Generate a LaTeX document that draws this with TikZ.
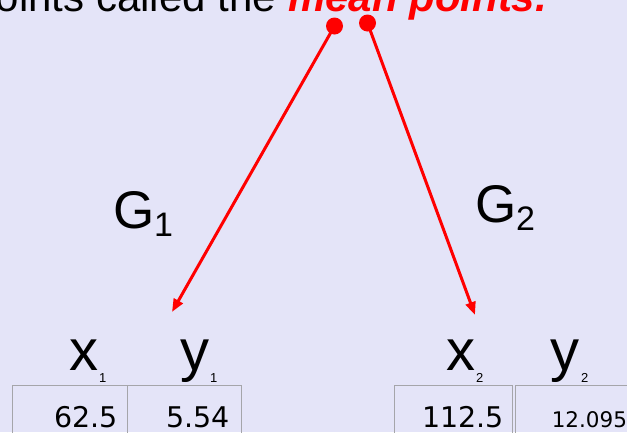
\documentclass[tikz,border=0pt]{standalone}
\usepackage{fontspec}
\setmainfont{Liberation Sans}
\newfontfamily\dv{DejaVu Sans}
\usetikzlibrary{arrows.meta}
\definecolor{bg}{RGB}{228,228,248}
\definecolor{cellline}{RGB}{165,165,170}
\begin{document}
\begin{tikzpicture}[x=1pt,y=1pt,
  txt/.style={inner sep=0pt,outer sep=0pt},
  dot/.style={circle,fill=red,inner sep=0pt,minimum size=17pt},
  ptr/.style={red,line width=3pt,-{Triangle[length=13pt,width=10pt]}},
  cell/.style={draw=cellline,line width=1pt,inner sep=0pt,anchor=north west,minimum height=70pt},
  big/.style={txt,font=\fontsize{53}{60}\selectfont},
  bigsub/.style={txt,font=\fontsize{34}{40}\selectfont},
  var/.style={txt,font=\fontsize{58}{64}\selectfont},
  varsub/.style={txt,font=\fontsize{13}{15}\selectfont},
  num/.style={txt,text depth=0pt,font=\dv\fontsize{28.5}{32}\selectfont},
  numsm/.style={txt,text depth=0pt,font=\dv\fontsize{21.5}{25}\selectfont}]
\useasboundingbox (0,0) rectangle (627,-432);
\clip (0,0) rectangle (627,-432);
\fill[bg] (0,0) rectangle (627,-432);
% top text
\node[txt,anchor=base east,font=\fontsize{42}{48}\selectfont] (t1) at (276,-11) {points called the};
\node[txt,anchor=base west,text=red,font=\fontsize{42}{48}\selectfont\bfseries\itshape] (t2) at (288,-11) {mean points.};
% dots
\node[dot] (d1) at (334.5,-26) {};
\node[dot] (d2) at (367.5,-23) {};
\coordinate (a1) at (172,-312);
\coordinate (a2) at (475,-315);
\draw[ptr] (d1.center) -- (a1);
\draw[ptr] (d2.center) -- (a2);
% G labels
\node[big,anchor=base west] (g1) at (113,-228) {G};
\node[bigsub,anchor=base west] (g1s) at (g1.base east) [yshift=-8pt] {1};
\node[big,anchor=base west] (g2) at (475,-222) {G};
\node[bigsub,anchor=base west] (g2s) at (g2.base east) [yshift=-8pt] {2};
% variable labels
\node[var,anchor=base west] (x1) at (69,-370) {x};
\node[varsub,anchor=base west] (x1s) at (99,-382) {1};
\node[var,anchor=base west] (y1) at (180,-370) {y};
\node[varsub,anchor=base west] (y1s) at (210,-382) {1};
\node[var,anchor=base west] (x2) at (446,-370) {x};
\node[varsub,anchor=base west] (x2s) at (476,-382) {2};
\node[var,anchor=base west] (y2) at (550,-370) {y};
\node[varsub,anchor=base west] (y2s) at (581,-382) {2};
% table cells
\node[cell,minimum width=115pt] (c1) at (12,-385) {};
\node[cell,minimum width=114pt] (c2) at (127,-385) {};
\node[cell,minimum width=118pt] (c3) at (394,-385) {};
\node[cell,minimum width=125pt] (c4) at (515,-385) {};
\node[num,anchor=base east] (n1) at (118,-427) {62.5};
\node[num,anchor=base east] (n2) at (230,-427) {5.54};
\node[num,anchor=base east] (n3) at (504,-427) {112.5};
\node[numsm,anchor=base east] (n4) at (627,-427) {12.095};
\end{tikzpicture}
\end{document}
